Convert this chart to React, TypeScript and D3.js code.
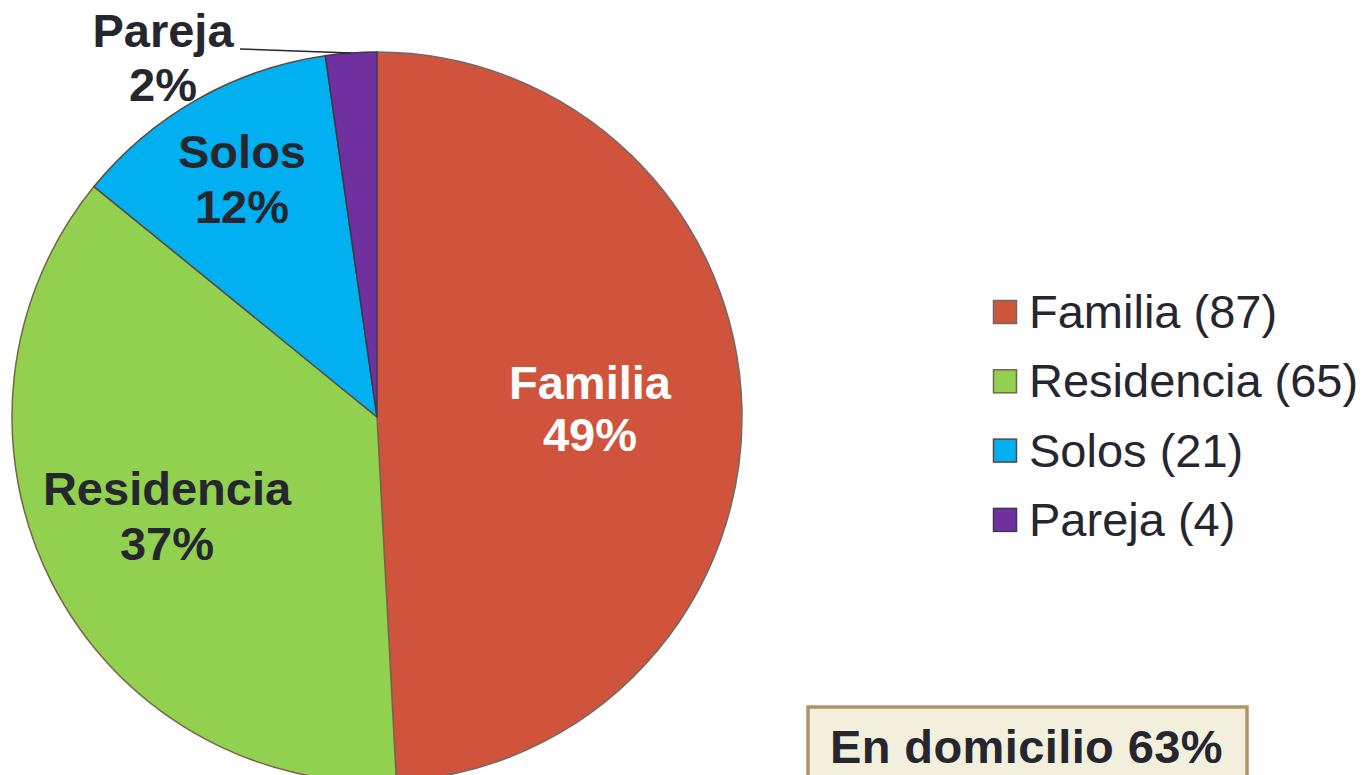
import React, { useEffect, useRef } from 'react';
import * as d3 from 'd3';

const categories = ['Familia', 'Residencia', 'Solos', 'Pareja'];
const counts = [87, 65, 21, 4];
const percents = ['49%', '37%', '12%', '2%'];
const fills = ['#d0543c', '#92d050', '#00b0f0', '#7030a0'];
const strokes = ['#6b6b6b', '#7a6446', '#5a4a3a', '#3a3a48'];
const labelColors = ['#ffffff', '#26262f', '#26262f', '#26262f'];
const boxText = 'En domicilio 63%';

export default function App() {
  const ref = useRef<SVGSVGElement>(null);

  useEffect(() => {
    const svg = d3.select(ref.current);
    svg.selectAll('*').remove();

    const width = 1367;
    const height = 775;
    const cx = 377, cy = 417, r = 365;
    const font = 'Arial, "Liberation Sans", sans-serif';

    svg.append('rect').attr('width', width).attr('height', height).attr('fill', '#fff');

    const data = categories.map((c, i) => ({ name: c, value: counts[i], i }));
    const pie = d3.pie<any>().sort(null).value(d => d.value);
    const arcs = pie(data);
    const arc = d3.arc<any>().innerRadius(0).outerRadius(r);

    const g = svg.append('g').attr('transform', `translate(${cx},${cy})`);
    g.selectAll('path')
      .data(arcs)
      .enter().append('path')
      .attr('d', arc)
      .attr('fill', d => fills[d.data.i])
      .attr('stroke', d => strokes[d.data.i])
      .attr('stroke-width', 1.5);

    // label baselines (relative to center)
    const labelPos = [[213, -18, 52], [-210, 88, 55], [-135, -249, 55], [-214, -370, 54]];

    // leader line for Pareja
    const pa = arcs[3];
    const mid = (pa.startAngle + pa.endAngle) / 2;
    g.append('line')
      .attr('x1', 240 - cx).attr('y1', 49 - cy)
      .attr('x2', r * Math.sin(mid)).attr('y2', -r * Math.cos(mid))
      .attr('stroke', '#26262f').attr('stroke-width', 1.5);

    arcs.forEach((a, k) => {
      const [lx, ly, gap] = labelPos[k];
      const t = g.append('text')
        .attr('text-anchor', 'middle')
        .attr('font-family', font)
        .attr('font-weight', 'bold')
        .attr('font-size', 47)
        .attr('fill', labelColors[k]);
      t.append('tspan').attr('x', lx).attr('y', ly).text(a.data.name);
      t.append('tspan').attr('x', lx).attr('y', ly + gap).text(percents[k]);
    });

    // legend
    const legend = svg.append('g').attr('transform', 'translate(993,300)');
    categories.forEach((c, i) => {
      const y = i * 69.3;
      legend.append('rect')
        .attr('x', 0.5).attr('y', y + 0.5).attr('width', 23).attr('height', 23)
        .attr('fill', fills[i]).attr('stroke', strokes[i]).attr('stroke-width', 1.5);
      legend.append('text')
        .attr('x', 36).attr('y', y + 28)
        .attr('font-family', font).attr('font-size', 47)
        .attr('fill', '#26262f')
        .text(`${c} (${counts[i]})`);
    });

    // box
    svg.append('rect')
      .attr('x', 808).attr('y', 707).attr('width', 439).attr('height', 90)
      .attr('fill', '#f2f0dc').attr('stroke', '#b09468').attr('stroke-width', 3.5);
    svg.append('text')
      .attr('x', 830).attr('y', 763)
      .attr('font-family', font).attr('font-weight', 'bold').attr('font-size', 47)
      .attr('letter-spacing', 0.4)
      .attr('fill', '#26262f')
      .text(boxText);
  }, []);

  return (
    <svg ref={ref} width={1367} height={775}
      style={{ position: 'absolute', left: 0, top: 0, display: 'block' }} />
  );
}
